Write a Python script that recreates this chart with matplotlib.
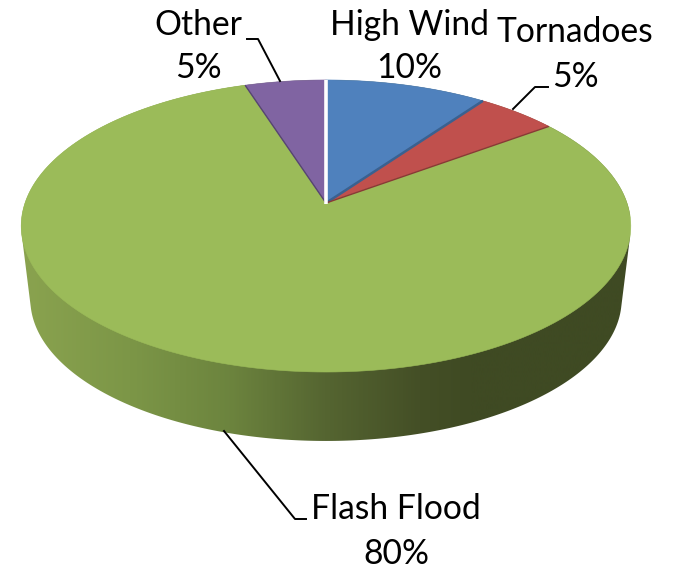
# 3D style pie of storm fatalities by cause, drawn by hand from projected wedges

import numpy as np
import matplotlib
matplotlib.use('Agg')
import matplotlib.pyplot as plt
from matplotlib.colors import LinearSegmentedColormap
from matplotlib.patches import Polygon

labels = ['High Wind', 'Tornadoes', 'Flash Flood', 'Other']
values = [10, 5, 80, 5]
colors = ['#4F81BD', '#C0504D', '#9BBB59', '#8064A2']
cut_colors = ['#3A6190', '#8A3836', None, '#574670']

# where each label sits (x, name y, percent y) and its leader line
label_pos = [(409, 25, 68), (575, 32, 77), (396, 509, 554), (198, 25, 68)]
leaders = [None,
           [(513, 109), (535, 87), (548, 87)],
           [(224, 431), (295, 519), (306, 519)],
           [(280, 81), (258, 39), (247, 39)]]

# perspective of the disc, in pixels
cx = 326
a = 301
b = 142.4
k = 0.1575


def project(theta, r=1.0, y0=203.0, scale=1.0):
    # theta in degrees, clockwise from 12 o'clock
    t = np.radians(theta)
    d = 1 + k * r * np.cos(t)
    return cx + scale * a * r * np.sin(t) / d, y0 - scale * b * r * np.cos(t) / d


def hull(pts):
    pts = sorted(map(tuple, pts))
    def half(seq):
        out = []
        for p in seq:
            while len(out) > 1 and ((out[-1][0] - out[-2][0]) * (p[1] - out[-2][1])
                                    - (out[-1][1] - out[-2][1]) * (p[0] - out[-2][0])) <= 0:
                out.pop()
            out.append(p)
        return out[:-1]
    return half(pts) + half(pts[::-1])


plt.rcParams['font.family'] = ['Lato', 'DejaVu Sans']
fig = plt.figure(figsize=(6.73, 5.70), dpi=100)
ax = fig.add_axes([0, 0, 1, 1])
ax.axis('off')

# side wall: horizontal shading clipped to the outline of top and bottom discs
angles = np.linspace(0, 360, 721)
top = np.column_stack(project(angles))
bottom = np.column_stack(project(angles, y0=277.0, scale=0.97))
wall = Polygon(hull(np.vstack([top, bottom])), closed=True, transform=ax.transData, fc='none', ec='none')
ax.add_patch(wall)
shade = LinearSegmentedColormap.from_list('wall', [
    (0.0, '#8AA34F'), (0.18, '#7C9647'), (0.344, '#6C843E'),
    (0.5, '#556531'), (0.656, '#444F26'), (0.74, '#3F4A23'), (1.0, '#3F4A23')])
im = ax.imshow(np.linspace(0, 1, 673).reshape(1, -1), cmap=shade, vmin=0, vmax=1,
               extent=(20, 630, 570, 0), aspect='auto', interpolation='bilinear')
im.set_clip_path(wall)

# top face
edges = np.cumsum([0] + values) * 3.6
for i, color in enumerate(colors):
    th = np.linspace(edges[i], edges[i + 1], 200)
    x, y = project(th)
    pts = [project(0, 0)] + list(zip(x, y))
    ax.add_patch(Polygon(pts, closed=True, fc=color, ec=color, lw=0.4, zorder=3))

# thin dark cut faces along the slice edges
apex = project(0, 0)
for angle, color, lw in [(edges[1], cut_colors[0], 1.8), (edges[2], cut_colors[1], 1.0),
                         (edges[3], cut_colors[3], 1.0)]:
    ex, ey = project(angle)
    ax.plot([apex[0], ex], [apex[1], ey], color=color, lw=lw, zorder=4, solid_capstyle='butt')

# white gap at the start of the first slice
ex, ey = project(0)
ax.plot([apex[0], ex], [apex[1] + 1, ey], color='white', lw=2.6, zorder=5, solid_capstyle='butt')

for name, val, pos, lead in zip(labels, values, label_pos, leaders):
    ax.text(pos[0], pos[1], name, fontsize=24.2, ha='center', va='center', color='black', zorder=6)
    ax.text(pos[0], pos[2], f'{val}%', fontsize=24.2, ha='center', va='center', color='black', zorder=6)
    if lead:
        ax.plot(*zip(*lead), color='black', lw=1.4, zorder=2 if name == 'Flash Flood' else 6)

ax.set_xlim(0, 673)
ax.set_ylim(570, 0)

plt.savefig('out.png', dpi=100, facecolor='white')
